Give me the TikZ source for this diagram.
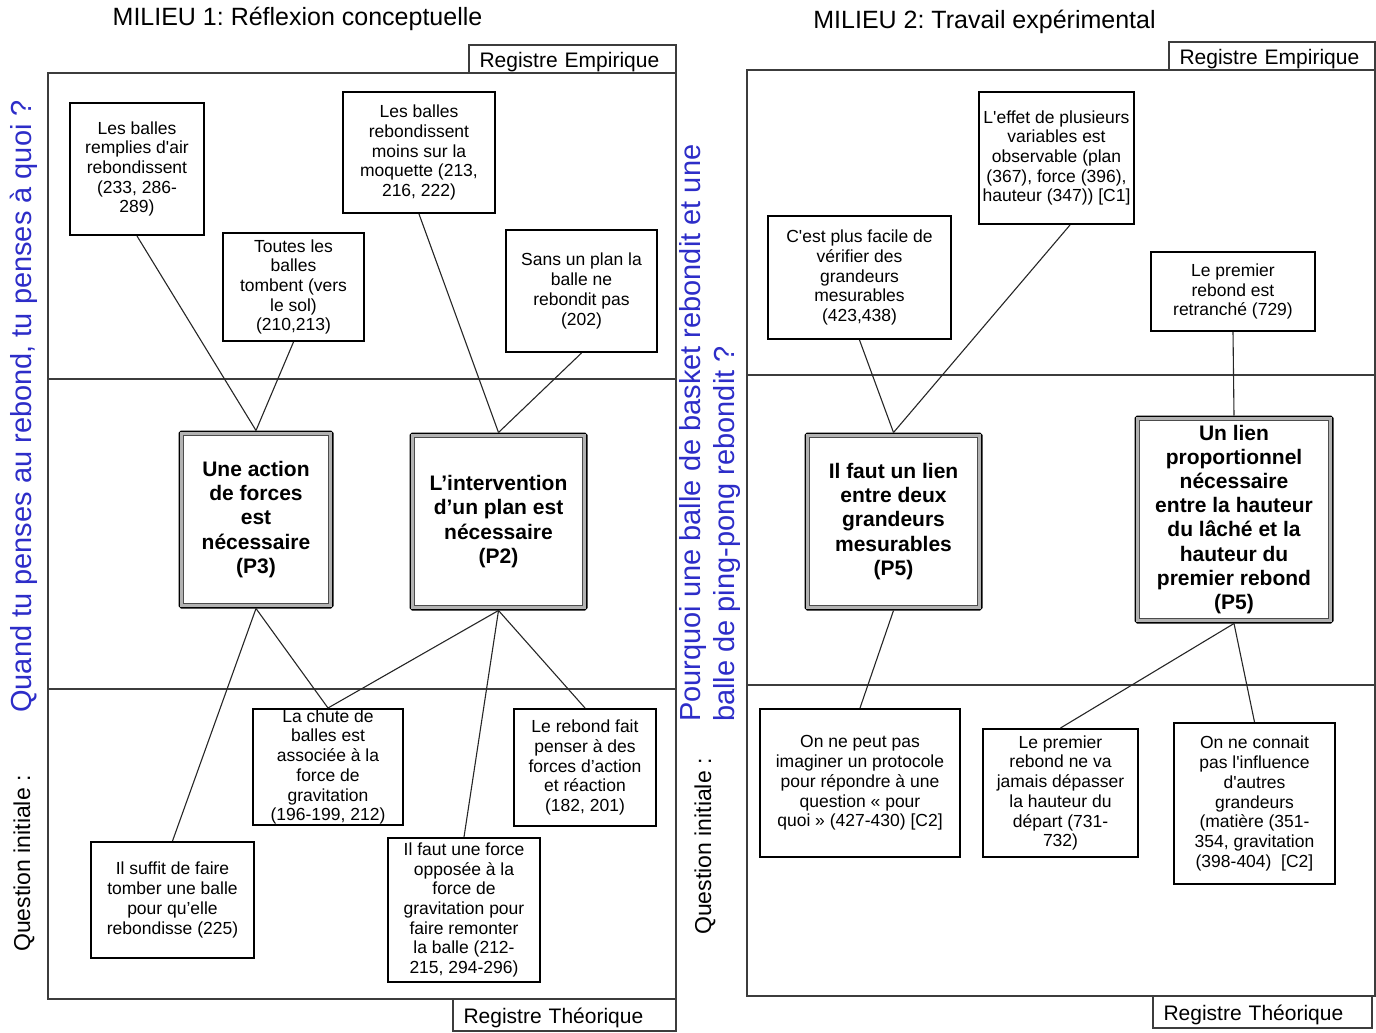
\documentclass[tikz,border=0pt]{standalone}
\usepackage{fontspec}
\setmainfont{Liberation Sans}[Ligatures=TeXOff]
\usetikzlibrary{calc}
\definecolor{qblue}{RGB}{45,45,200}
\definecolor{framec}{RGB}{60,60,60}
\frenchspacing
\begin{document}
\begin{tikzpicture}[x=1pt,y=-1pt,
 frameline/.style={draw=framec,line width=1.3pt},
 smallbox/.style={draw=black,line width=2pt,fill=white,inner sep=0pt,align=center,font=\fontsize{17.5}{19.7}\selectfont},
 bigbox/.style={draw=black,line width=3pt,fill=white,inner sep=0pt,align=center,font=\fontsize{21}{24.4}\selectfont\bfseries,rounded corners=1.5pt},
 innerband/.style={draw=gray!60,line width=2.4pt},
 innerline/.style={draw=black!70,line width=0.9pt},
 link/.style={draw=black!85,line width=1.1pt},
 regbox/.style={draw=framec,line width=1.3pt,fill=white,inner ysep=0pt,inner xsep=10.5pt,align=left,text height=16pt,text depth=0pt,font=\fontsize{21}{24}\selectfont},
 titlestyle/.style={inner sep=0pt,anchor=base,font=\fontsize{25}{30}\selectfont},
 qblack/.style={rotate=90,anchor=base west,inner sep=0pt,font=\fontsize{23}{28}\selectfont},
 qbluetext/.style={rotate=90,anchor=base west,inner sep=0pt,text=qblue,font=\fontsize{29}{34}\selectfont}
]
\useasboundingbox (0,0) rectangle (1376,1033);

% titles
\node[titlestyle] (T1) at (297.5,26) {MILIEU 1: Réflexion conceptuelle};
\node[titlestyle] (T2) at (984.5,29) {MILIEU 2: Travail expérimental};

% vertical questions
\node[qblack] (Q1a) at (30,952) {Question initiale :};
\node[qbluetext] (Q1b) at (31,713) {Quand tu penses au rebond, tu penses à quoi ?};
\node[qblack] (Q2a) at (711,935) {Question initiale :};
\node[qbluetext] (Q2b) at (700,722) {Pourquoi une balle de basket rebondit et une};
\node[qbluetext] (Q2c) at (734,722) {balle de ping-pong rebondit ?};

% panel frames
\draw[frameline] (48,73) rectangle (676,999);
\draw[frameline] (48,379) -- (676,379);
\draw[frameline] (48,689) -- (676,689);
\draw[frameline] (747,70) rectangle (1375,996);
\draw[frameline] (747,375) -- (1375,375);
\draw[frameline] (747,685) -- (1375,685);

% registre boxes
\node[regbox,minimum width=207pt,minimum height=28pt,text width=186pt] (RE1) at (572.5,59) {Registre Empirique};
\node[regbox,minimum width=223pt,minimum height=32pt,text width=202pt] (RT1) at (564.5,1015) {Registre Théorique};
\node[regbox,minimum width=206pt,minimum height=28pt,text width=185pt] (RE2) at (1272,56) {Registre Empirique};
\node[regbox,minimum width=219pt,minimum height=32pt,text width=198pt] (RT2) at (1262.5,1012) {Registre Théorique};

% left panel boxes
\node[smallbox,minimum width=134pt,minimum height=132pt] (A1) at (137,169) {Les balles\\remplies d'air\\rebondissent\\(233, 286-\\289)};
\node[smallbox,minimum width=141pt,minimum height=108pt] (A2) at (293.5,287) {Toutes les\\balles\\tombent (vers\\le sol)\\(210,213)};
\node[smallbox,minimum width=152pt,minimum height=121pt] (A3) at (419,152.5) {Les balles\\rebondissent\\moins sur la\\moquette (213,\\216, 222)};
\node[smallbox,minimum width=151pt,minimum height=122pt] (A4) at (581.5,291) {Sans un plan la\\balle ne\\rebondit pas\\(202)};
\node[bigbox,minimum width=152pt,minimum height=175pt] (P3) at (256,519.5) {Une action\\de forces\\est\\nécessaire\\(P3)};
\node[bigbox,minimum width=175pt,minimum height=175pt] (P2) at (498.5,521.5) {L’intervention\\d’un plan est\\nécessaire\\(P2)};
\node[smallbox,minimum width=150pt,minimum height=116pt] (B1) at (328,767) {La chute de\\balles est\\associée à la\\force de\\gravitation\\(196-199, 212)};
\node[smallbox,minimum width=142pt,minimum height=117pt] (B2) at (585,767.5) {Le rebond fait\\penser à des\\forces d’action\\et réaction\\(182, 201)};
\node[smallbox,minimum width=163pt,minimum height=116pt] (B3) at (172.5,900) {Il suffit de faire\\tomber une balle\\pour qu’elle\\rebondisse (225)};
\node[smallbox,minimum width=152pt,minimum height=144pt] (B4) at (464,910) {Il faut une force\\opposée à la\\force de\\gravitation pour\\faire remonter\\la balle (212-\\215, 294-296)};

% right panel boxes
\node[smallbox,minimum width=183pt,minimum height=123pt] (C1) at (859.5,277.5) {C'est plus facile de\\vérifier des\\grandeurs\\mesurables\\(423,438)};
\node[smallbox,minimum width=155pt,minimum height=132pt] (C2) at (1056.5,158) {L'effet de plusieurs\\variables est\\observable (plan\\(367), force (396),\\hauteur (347)) [C1]};
\node[smallbox,minimum width=164pt,minimum height=79pt] (C3) at (1233,291.5) {Le premier\\rebond est\\retranché (729)};
\node[bigbox,minimum width=175pt,minimum height=175pt] (P5a) at (893.5,521.5) {Il faut un lien\\entre deux\\grandeurs\\mesurables\\(P5)};
\node[bigbox,minimum width=196pt,minimum height=205pt,font=\fontsize{21}{24.1}\selectfont\bfseries] (P5b) at (1234,519.5) {Un lien\\proportionnel\\nécessaire\\entre la hauteur\\du lâché et la\\hauteur du\\premier rebond\\(P5)};
\node[smallbox,minimum width=200pt,minimum height=148pt] (D1) at (860,783) {On ne peut pas\\imaginer un protocole\\pour répondre à une\\question « pour\\quoi » (427-430) [C2]};
\node[smallbox,minimum width=155pt,minimum height=128pt] (D2) at (1060.5,793) {Le premier\\rebond ne va\\jamais dépasser\\la hauteur du\\départ (731-\\732)};
\node[smallbox,minimum width=161pt,minimum height=161pt] (D3) at (1254.5,803.5) {On ne connait\\pas l'influence\\d'autres\\grandeurs\\(matière (351-\\354, gravitation\\(398-404)~ [C2]};

% double borders of the big boxes
\foreach \n in {P3,P2,P5a,P5b}{
  \draw[innerband] ($(\n.north west)+(3,3)$) rectangle ($(\n.south east)+(-3,-3)$);
  \draw[innerline] ($(\n.north west)+(4.9,4.9)$) rectangle ($(\n.south east)+(-4.9,-4.9)$);
}

% connectors left
\draw[link] (A1.south) -- (P3.north);
\draw[link] (A2.south) -- (P3.north);
\draw[link] (A3.south) -- (P2.north);
\draw[link] (A4.south) -- (P2.north);
\draw[link] (P3.south) -- (B3.north);
\draw[link] (P3.south) -- (B1.north);
\draw[link] (P2.south) -- (B1.north);
\draw[link] (P2.south) -- (B4.north);
\draw[link] (P2.south) -- (B2.north);

% connectors right
\draw[link] (C1.south) -- (P5a.north);
\draw[link] ([xshift=13.5pt]C2.south) -- (P5a.north);
\draw[link] (C3.south) -- (P5b.north);
\draw[link] (P5a.south) -- (D1.north);
\draw[link] (P5b.south) -- (D2.north);
\draw[link] (P5b.south) -- (D3.north);
\end{tikzpicture}
\end{document}
